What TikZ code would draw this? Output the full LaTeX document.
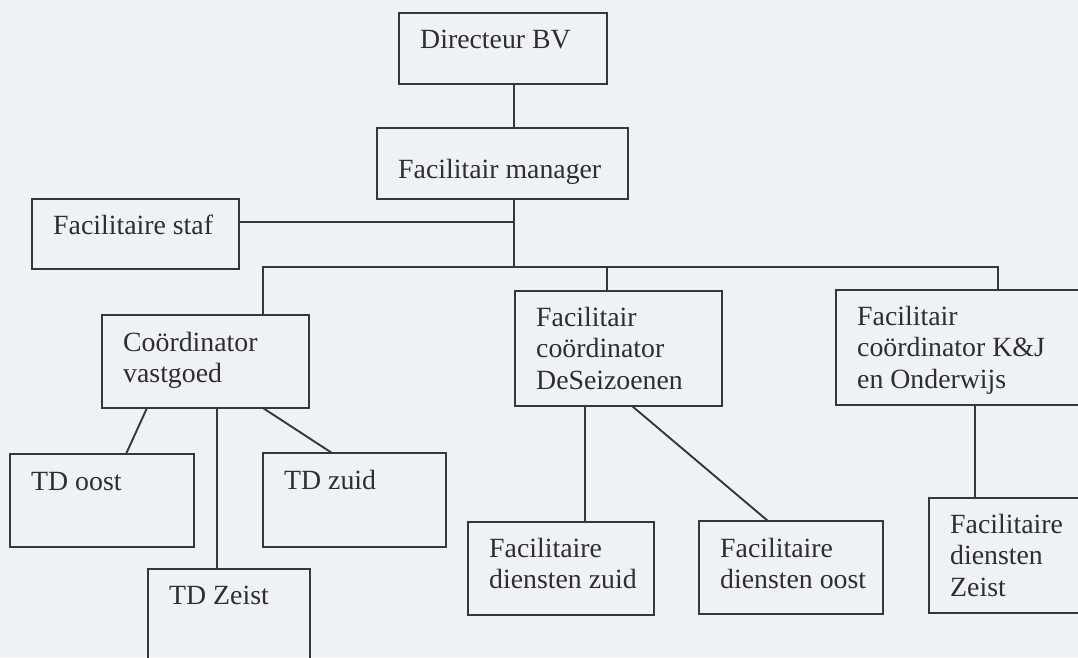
\documentclass[tikz,border=0pt]{standalone}
\usepackage{fontspec}
\setmainfont{Liberation Serif}
\usetikzlibrary{calc}
\definecolor{paper}{RGB}{238,242,245}
\definecolor{ink}{RGB}{52,56,60}
\definecolor{inktext}{RGB}{44,46,50}

% box: name, x, y (top-left), width, height, first-baseline offset, text
\newcommand\orgnode[7]{%
  \node[orgbox, minimum width=#4pt, minimum height=#5pt] (#1) at (#2,#3) {};
  \node[orgtext] (#1-t) at ($(#1.north west)+(21,#6)$)
    {\begin{tabular}[t]{@{}l@{}}#7\end{tabular}};}

\begin{document}
\begin{tikzpicture}[x=1pt,y=-1pt,
  orgbox/.style={draw=ink, line width=1.9pt, rectangle, inner sep=0pt, outer sep=0pt, anchor=north west},
  orgtext/.style={anchor=base west, inner sep=0pt, text=inktext,
    font=\fontsize{27.8}{31.5}\selectfont},
  link/.style={draw=ink, line width=1.9pt}]

\useasboundingbox (0,0) rectangle (1078,657);
\clip (0,0) rectangle (1078,657);
\fill[paper] (0,0) rectangle (1078,657);

% top of the chart
\orgnode{dir}{399}{13}{208}{71}{35}{Directeur BV}
\orgnode{mgr}{377}{128}{251}{71}{50}{Facilitair manager}
\orgnode{staf}{32}{199}{207}{70}{35}{Facilitaire staf}

% coordinators
\orgnode{vast}{102}{315}{207}{93}{36}{Coördinator\\vastgoed}
\orgnode{seiz}{515}{291}{207}{115}{35}{Facilitair\\coördinator\\DeSeizoenen}
\orgnode{kj}{836}{290}{260}{115}{35}{Facilitair\\coördinator K\&J\\en Onderwijs}

% technical services
\orgnode{oost}{10}{454}{184}{93}{36}{TD oost}
\orgnode{zuid}{263}{453}{183}{94}{36}{TD zuid}
\orgnode{zeist}{148}{569}{162}{120}{35}{TD Zeist}

% facility services
\orgnode{fdz}{468}{522}{186}{93}{35}{Facilitaire\\diensten zuid}
\orgnode{fdo}{699}{521}{184}{93}{36}{Facilitaire\\diensten oost}
\orgnode{fdzt}{929}{498}{160}{115}{35}{Facilitaire\\diensten\\Zeist}

% junctions of the main trunk and the distribution bar
\coordinate (trunk) at (514,267);
\coordinate (stafj) at (514,222);
\coordinate (barL) at (263,267);
\coordinate (barM) at (607,267);
\coordinate (barR) at (998,267);

\draw[link] (dir.south -| trunk) -- (mgr.north -| trunk);
\draw[link] (mgr.south -| trunk) -- (trunk);
\draw[link] (staf.east |- stafj) -- (stafj);
\draw[link] (vast.north -| barL) -- (barL) -- (barR) -- (kj.north -| barR);
\draw[link] (barM) -- (seiz.north -| barM);

% vastgoed branches
\draw[link] ($(vast.south west)+(45,0)$) -- ($(oost.north west)+(116,0)$);
\draw[link] ($(vast.south west)+(115,0)$) -- ($(zeist.north west)+(69,0)$);
\draw[link] ($(vast.south west)+(161,0)$) -- ($(zuid.north west)+(69,0)$);

% DeSeizoenen branches
\draw[link] ($(seiz.south west)+(70,0)$) -- ($(fdz.north west)+(117,0)$);
\draw[link] ($(seiz.south west)+(117,0)$) -- ($(fdo.north west)+(69,0)$);

% K&J branch
\draw[link] ($(kj.south west)+(139,0)$) -- ($(fdzt.north west)+(46,0)$);

\end{tikzpicture}
\end{document}
